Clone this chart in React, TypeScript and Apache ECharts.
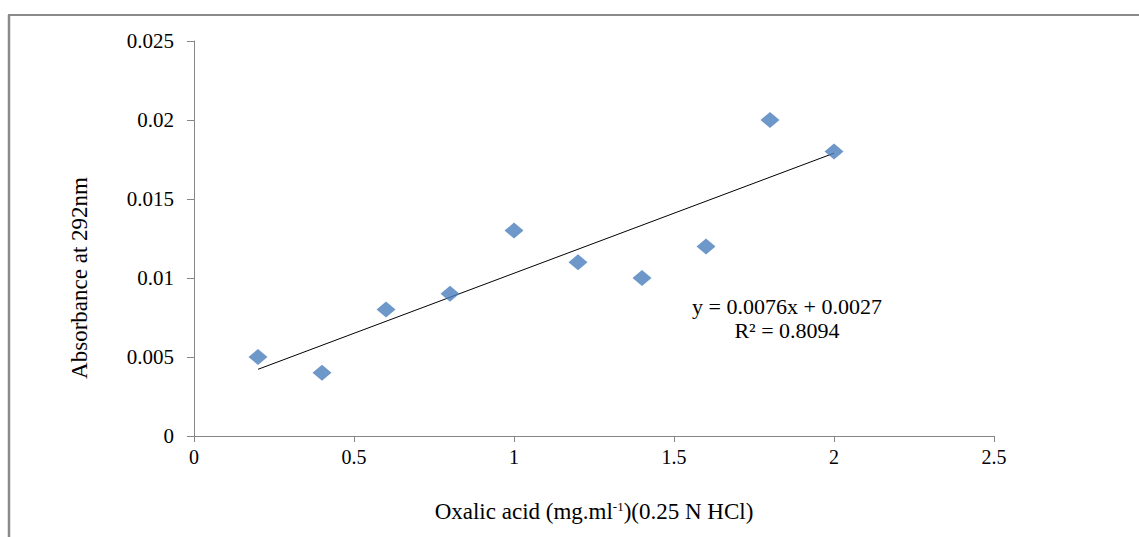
import React, { useEffect, useRef } from "react";
import * as echarts from "echarts";

const xValues = [0.2, 0.4, 0.6, 0.8, 1.0, 1.2, 1.4, 1.6, 1.8, 2.0];
const yValues = [0.005, 0.004, 0.008, 0.009, 0.013, 0.011, 0.01, 0.012, 0.02, 0.018];
const trendSlope = 0.0076;
const trendIntercept = 0.0027;
const trendXRange = [0.2, 2.0];
const equationLines = ["y = 0.0076x + 0.0027", "R\u00B2 = 0.8094"];

const FONT = "'Liberation Serif', 'Times New Roman', serif";

export default function App() {
  const ref = useRef<HTMLDivElement>(null);
  useEffect(() => {
    if (!ref.current) return;
    const chart = echarts.init(ref.current, undefined, { renderer: "svg" });
    const points = xValues.map((x, i) => [x, yValues[i]]);
    const trend = trendXRange.map((x) => [x, trendSlope * x + trendIntercept]);
    chart.setOption({
      animation: false,
      backgroundColor: "#ffffff",
      grid: { left: 194, right: 145, top: 41, bottom: 101 },
      xAxis: {
        type: "value",
        min: 0,
        max: 2.5,
        interval: 0.5,
        splitLine: { show: false },
        axisLine: { onZero: false, lineStyle: { color: "#868686", width: 1 } },
        axisTick: { show: true, length: 6, lineStyle: { color: "#868686" } },
        axisLabel: {
          color: "#000",
          fontFamily: FONT,
          fontSize: 20,
          margin: 11,
          formatter: (v: number) => String(parseFloat(v.toFixed(2))),
        },
        name: "{a|Oxalic acid (mg.ml}{s|-1}{a|)(0.25 N HCl)}",
        nameLocation: "middle",
        nameGap: 64,
        nameTextStyle: {
          rich: {
            a: { fontFamily: FONT, fontSize: 23, color: "#000" },
            s: { fontFamily: FONT, fontSize: 13, color: "#000", verticalAlign: "top", padding: [0, 0, 9, 0] },
          },
        },
      },
      yAxis: {
        type: "value",
        min: 0,
        max: 0.025,
        interval: 0.005,
        splitLine: { show: false },
        axisLine: { show: true, lineStyle: { color: "#868686", width: 1 } },
        axisTick: { show: true, length: 7, lineStyle: { color: "#868686" } },
        axisLabel: {
          color: "#000",
          fontFamily: FONT,
          fontSize: 21,
          margin: 20,
          formatter: (v: number) => String(parseFloat(v.toFixed(3))),
        },
      },
      series: [
        {
          type: "line",
          data: trend,
          symbol: "none",
          lineStyle: { color: "#000", width: 1 },
          z: 3,
        },
        {
          type: "scatter",
          data: points,
          symbol: "diamond",
          symbolSize: [19, 16],
          itemStyle: { color: "#4a7ebb" },
          z: 4,
        },
      ],
      graphic: [
        {
          type: "line",
          shape: { x1: 8, y1: 15, x2: 1139, y2: 15 },
          style: { stroke: "#8a8a8a", lineWidth: 2 },
        },
        {
          type: "line",
          shape: { x1: 9, y1: 15, x2: 9, y2: 537 },
          style: { stroke: "#8a8a8a", lineWidth: 2.5 },
        },
        {
          type: "text",
          x: 79,
          y: 278,
          rotation: Math.PI / 2,
          style: {
            text: "Absorbance at 292nm",
            fontFamily: FONT,
            fontSize: 23,
            fill: "#000",
            textAlign: "center",
            textVerticalAlign: "middle",
          },
        },
        {
          type: "text",
          x: 787,
          y: 306,
          style: {
            text: equationLines[0],
            fontFamily: FONT,
            fontSize: 22,
            fill: "#000",
            textAlign: "center",
            textVerticalAlign: "middle",
          },
        },
        {
          type: "text",
          x: 787,
          y: 330,
          style: {
            text: equationLines[1],
            fontFamily: FONT,
            fontSize: 22,
            fill: "#000",
            textAlign: "center",
            textVerticalAlign: "middle",
          },
        },
      ],
    });
    return () => chart.dispose();
  }, []);
  return (
    <div
      ref={ref}
      style={{ position: "absolute", left: 0, top: 0, width: 1139, height: 537 }}
    />
  );
}
